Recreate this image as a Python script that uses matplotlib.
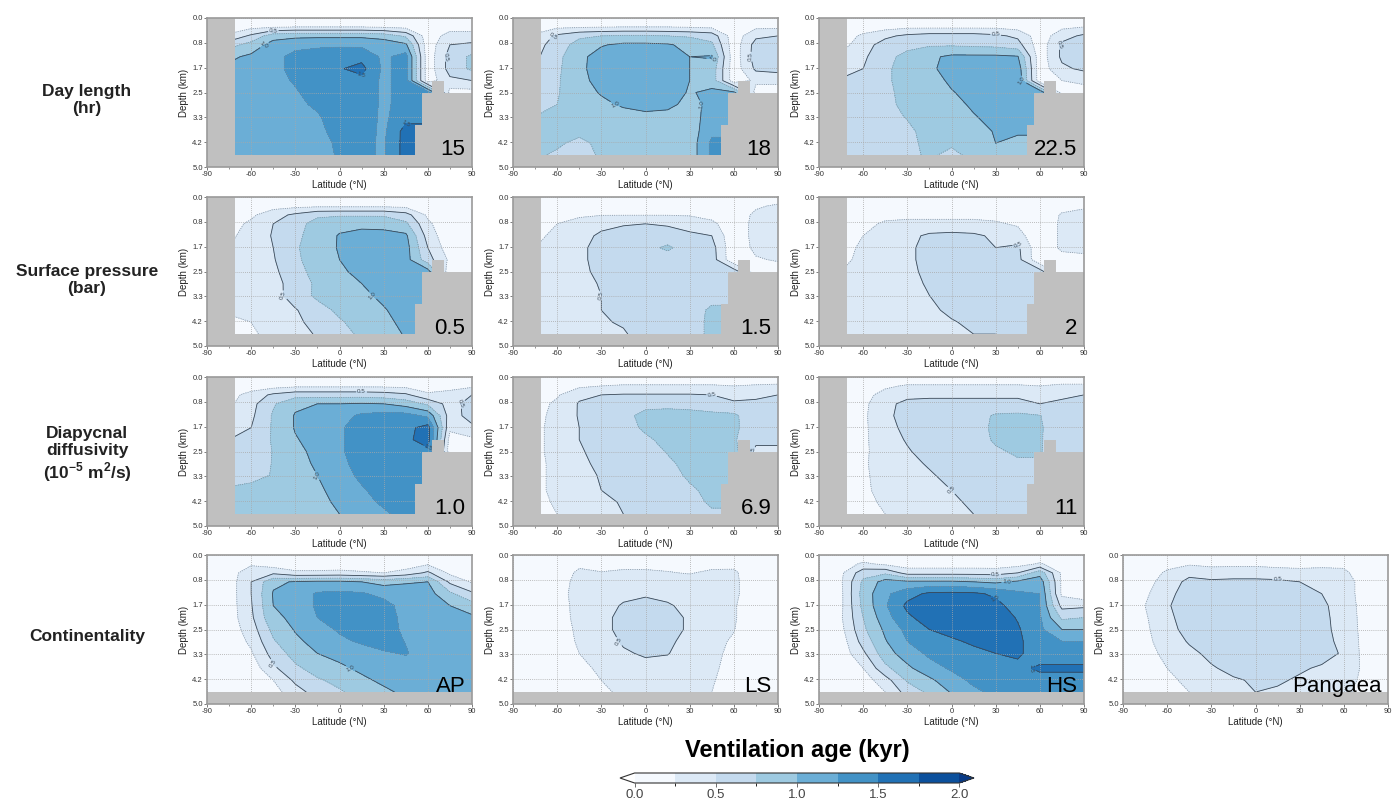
import numpy as np
import matplotlib
matplotlib.use('Agg')
import matplotlib.pyplot as plt
from matplotlib.colors import ListedColormap, BoundaryNorm
from matplotlib.cm import ScalarMappable
from matplotlib.ticker import MultipleLocator

plt.rcParams['font.family'] = ['Liberation Sans', 'DejaVu Sans']
plt.rcParams['axes.unicode_minus'] = False
plt.rcParams['mathtext.fontset'] = 'custom'
plt.rcParams['mathtext.rm'] = 'Liberation Sans'
plt.rcParams['mathtext.bf'] = 'Liberation Sans:bold'

# ---------------- data (ventilation age, kyr) ----------------
lat = [-90, -75, -60, -45, -30, -15, 0, 15, 30, 45, 60, 75, 90]
depth = [0.0, 0.3, 0.6, 0.9, 1.3, 1.7, 2.1, 2.5, 2.9, 3.3, 3.8, 4.2, 4.6]

age_day15 = [
    [0.05]*13,
    [0.10, 0.10, 0.18, 0.22, 0.25, 0.25, 0.25, 0.25, 0.22, 0.18, 0.10, 0.15, 0.15],
    [0.30, 0.30, 0.55, 0.90, 0.95, 0.95, 0.95, 0.95, 0.90, 0.70, 0.10, 0.35, 0.35],
    [0.65, 0.65, 0.85, 1.10, 1.15, 1.20, 1.20, 1.20, 1.15, 1.05, 0.10, 0.50, 0.55],
    [0.95, 0.95, 1.05, 1.15, 1.35, 1.38, 1.45, 1.42, 1.20, 1.35, 0.10, 0.60, 0.80],
    [1.05, 1.05, 1.10, 1.15, 1.35, 1.40, 1.48, 1.58, 1.20, 1.35, 0.10, 0.60, 0.80],
    [1.10, 1.10, 1.12, 1.15, 1.28, 1.40, 1.40, 1.42, 1.20, 1.35, 0.10, 0.45, 0.50],
    [1.12, 1.12, 1.12, 1.15, 1.22, 1.38, 1.40, 1.40, 1.20, 1.35, 1.35, 0.15, 0.15],
    [1.12, 1.12, 1.12, 1.15, 1.18, 1.30, 1.40, 1.40, 1.20, 1.35, 1.35, 1.35, 1.35],
    [1.12, 1.12, 1.12, 1.15, 1.15, 1.22, 1.40, 1.38, 1.20, 1.40, 1.40, 1.40, 1.40],
    [1.12, 1.12, 1.12, 1.12, 1.15, 1.18, 1.35, 1.35, 1.20, 1.60, 1.60, 1.60, 1.60],
    [1.12, 1.12, 1.12, 1.12, 1.12, 1.15, 1.30, 1.30, 1.22, 1.60, 1.60, 1.60, 1.60],
    [1.12, 1.12, 1.12, 1.12, 1.12, 1.15, 1.28, 1.30, 1.22, 1.60, 1.60, 1.60, 1.60],
]

age_day18 = [
    [0.05]*13,
    [0.10, 0.10, 0.20, 0.22, 0.24, 0.25, 0.25, 0.25, 0.23, 0.20, 0.10, 0.20, 0.20],
    [0.30, 0.30, 0.55, 0.70, 0.75, 0.78, 0.78, 0.75, 0.72, 0.65, 0.10, 0.45, 0.50],
    [0.40, 0.40, 0.62, 0.85, 0.98, 1.05, 1.05, 1.03, 0.92, 0.80, 0.10, 0.60, 0.65],
    [0.45, 0.45, 0.68, 0.94, 1.10, 1.12, 1.12, 1.10, 1.00, 1.02, 0.10, 0.62, 0.70],
    [0.52, 0.52, 0.70, 0.95, 1.10, 1.12, 1.12, 1.10, 1.00, 0.90, 0.10, 0.55, 0.60],
    [0.58, 0.58, 0.72, 0.93, 1.08, 1.12, 1.12, 1.10, 1.00, 0.90, 0.10, 0.30, 0.30],
    [0.65, 0.65, 0.73, 0.90, 1.02, 1.10, 1.12, 1.10, 0.98, 1.05, 1.05, 0.15, 0.15],
    [0.70, 0.70, 0.75, 0.86, 0.95, 1.03, 1.06, 1.05, 0.94, 1.05, 1.05, 1.05, 1.05],
    [0.75, 0.75, 0.78, 0.85, 0.88, 0.92, 0.96, 0.94, 0.90, 1.10, 1.10, 1.10, 1.10],
    [0.78, 0.78, 0.80, 0.80, 0.82, 0.85, 0.85, 0.85, 0.85, 1.20, 1.20, 1.20, 1.20],
    [0.78, 0.78, 0.78, 0.70, 0.80, 0.85, 0.85, 0.85, 0.85, 1.30, 1.30, 1.30, 1.30],
    [0.78, 0.78, 0.72, 0.60, 0.80, 0.85, 0.85, 0.85, 0.85, 1.30, 1.30, 1.30, 1.30],
]

age_day225 = [
    [0.05]*13,
    [0.05, 0.05, 0.10, 0.15, 0.20, 0.20, 0.20, 0.20, 0.20, 0.15, 0.10, 0.20, 0.25],
    [0.10, 0.10, 0.30, 0.45, 0.55, 0.60, 0.60, 0.60, 0.55, 0.45, 0.10, 0.40, 0.55],
    [0.15, 0.15, 0.40, 0.60, 0.70, 0.72, 0.72, 0.70, 0.68, 0.60, 0.10, 0.55, 0.60],
    [0.30, 0.30, 0.45, 0.70, 0.80, 0.95, 1.05, 1.05, 1.05, 1.02, 0.10, 0.55, 0.60],
    [0.42, 0.42, 0.50, 0.72, 0.82, 0.95, 1.10, 1.12, 1.12, 1.15, 0.10, 0.45, 0.55],
    [0.52, 0.52, 0.55, 0.72, 0.82, 0.88, 1.05, 1.12, 1.12, 1.20, 0.10, 0.25, 0.30],
    [0.55, 0.55, 0.58, 0.70, 0.82, 0.85, 0.98, 1.10, 1.12, 1.20, 1.20, 0.15, 0.15],
    [0.58, 0.58, 0.60, 0.70, 0.80, 0.85, 0.90, 1.05, 1.12, 1.15, 1.15, 1.15, 1.15],
    [0.58, 0.58, 0.60, 0.70, 0.76, 0.82, 0.88, 0.98, 1.10, 1.10, 1.10, 1.10, 1.10],
    [0.58, 0.58, 0.60, 0.68, 0.72, 0.80, 0.85, 0.90, 1.02, 1.05, 1.05, 1.05, 1.05],
    [0.58, 0.58, 0.60, 0.65, 0.72, 0.78, 0.78, 0.85, 1.00, 0.90, 0.90, 0.90, 0.90],
    [0.70, 0.70, 0.60, 0.62, 0.70, 0.78, 0.70, 0.80, 0.85, 0.85, 0.85, 0.85, 0.85],
]

age_psurf05 = [
    [0.05]*13,
    [0.05, 0.05, 0.10, 0.15, 0.18, 0.20, 0.20, 0.20, 0.20, 0.18, 0.10, 0.05, 0.05],
    [0.10, 0.10, 0.20, 0.40, 0.55, 0.70, 0.72, 0.72, 0.72, 0.60, 0.20, 0.05, 0.05],
    [0.15, 0.15, 0.30, 0.50, 0.65, 0.85, 0.92, 0.92, 0.90, 0.80, 0.30, 0.05, 0.05],
    [0.20, 0.20, 0.35, 0.52, 0.70, 0.85, 1.02, 1.10, 1.10, 1.05, 0.40, 0.05, 0.05],
    [0.25, 0.25, 0.35, 0.50, 0.72, 0.88, 1.02, 1.10, 1.10, 1.10, 0.50, 0.10, 0.05],
    [0.28, 0.28, 0.35, 0.48, 0.70, 0.88, 1.00, 1.10, 1.10, 1.10, 0.60, 0.20, 0.10],
    [0.30, 0.30, 0.35, 0.45, 0.65, 0.85, 0.95, 1.08, 1.10, 1.10, 1.10, 0.05, 0.05],
    [0.30, 0.30, 0.35, 0.42, 0.60, 0.80, 0.90, 1.00, 1.08, 1.10, 1.10, 1.10, 1.10],
    [0.30, 0.30, 0.35, 0.40, 0.62, 0.80, 0.85, 0.95, 1.05, 1.10, 1.10, 1.10, 1.10],
    [0.28, 0.28, 0.30, 0.38, 0.48, 0.65, 0.80, 0.90, 0.98, 1.10, 1.10, 1.10, 1.10],
    [0.20, 0.20, 0.25, 0.35, 0.45, 0.58, 0.72, 0.85, 0.95, 1.05, 1.05, 1.05, 1.05],
    [0.15, 0.15, 0.20, 0.35, 0.42, 0.52, 0.65, 0.80, 0.90, 1.02, 1.02, 1.02, 1.02],
]

age_psurf15 = [
    [0.05]*13,
    [0.05, 0.05, 0.08, 0.12, 0.15, 0.18, 0.18, 0.18, 0.15, 0.10, 0.05, 0.20, 0.30],
    [0.10, 0.10, 0.15, 0.22, 0.24, 0.24, 0.24, 0.24, 0.23, 0.15, 0.05, 0.32, 0.38],
    [0.15, 0.15, 0.25, 0.32, 0.42, 0.48, 0.50, 0.48, 0.40, 0.32, 0.05, 0.35, 0.40],
    [0.20, 0.20, 0.30, 0.40, 0.55, 0.60, 0.60, 0.58, 0.55, 0.50, 0.05, 0.35, 0.40],
    [0.25, 0.25, 0.32, 0.45, 0.58, 0.62, 0.66, 0.80, 0.60, 0.60, 0.05, 0.32, 0.38],
    [0.28, 0.28, 0.35, 0.45, 0.58, 0.62, 0.62, 0.62, 0.62, 0.62, 0.05, 0.22, 0.28],
    [0.30, 0.30, 0.35, 0.45, 0.55, 0.62, 0.62, 0.62, 0.62, 0.62, 0.62, 0.10, 0.10],
    [0.30, 0.30, 0.35, 0.42, 0.52, 0.62, 0.62, 0.62, 0.62, 0.62, 0.62, 0.62, 0.62],
    [0.30, 0.30, 0.35, 0.42, 0.50, 0.60, 0.62, 0.62, 0.62, 0.65, 0.65, 0.65, 0.65],
    [0.30, 0.30, 0.35, 0.40, 0.50, 0.58, 0.62, 0.62, 0.62, 0.80, 0.80, 0.80, 0.80],
    [0.30, 0.30, 0.35, 0.40, 0.48, 0.52, 0.60, 0.62, 0.62, 0.82, 0.82, 0.82, 0.82],
    [0.30, 0.30, 0.35, 0.40, 0.45, 0.48, 0.58, 0.62, 0.62, 0.82, 0.82, 0.82, 0.82],
]

age_psurf2 = [
    [0.05]*13,
    [0.05, 0.05, 0.05, 0.08, 0.10, 0.10, 0.10, 0.10, 0.10, 0.08, 0.05, 0.15, 0.20],
    [0.05, 0.05, 0.08, 0.15, 0.20, 0.20, 0.20, 0.20, 0.18, 0.15, 0.05, 0.28, 0.35],
    [0.08, 0.08, 0.15, 0.30, 0.30, 0.30, 0.30, 0.30, 0.28, 0.22, 0.05, 0.30, 0.38],
    [0.12, 0.12, 0.25, 0.35, 0.42, 0.55, 0.58, 0.55, 0.45, 0.35, 0.05, 0.30, 0.38],
    [0.15, 0.15, 0.30, 0.38, 0.45, 0.58, 0.60, 0.58, 0.50, 0.55, 0.05, 0.30, 0.35],
    [0.20, 0.20, 0.30, 0.40, 0.45, 0.58, 0.60, 0.58, 0.55, 0.58, 0.05, 0.15, 0.15],
    [0.25, 0.25, 0.32, 0.40, 0.45, 0.55, 0.60, 0.58, 0.58, 0.60, 0.60, 0.05, 0.05],
    [0.28, 0.28, 0.32, 0.38, 0.45, 0.52, 0.60, 0.58, 0.58, 0.60, 0.60, 0.60, 0.60],
    [0.28, 0.28, 0.32, 0.36, 0.42, 0.50, 0.58, 0.58, 0.58, 0.60, 0.60, 0.60, 0.60],
    [0.28, 0.28, 0.32, 0.35, 0.40, 0.45, 0.55, 0.58, 0.58, 0.65, 0.65, 0.65, 0.65],
    [0.28, 0.28, 0.32, 0.35, 0.40, 0.42, 0.48, 0.55, 0.55, 0.70, 0.70, 0.70, 0.70],
    [0.28, 0.28, 0.30, 0.32, 0.38, 0.40, 0.45, 0.50, 0.50, 0.65, 0.65, 0.65, 0.65],
]

age_kv10 = [
    [0.05]*13,
    [0.05, 0.05, 0.10, 0.15, 0.20, 0.20, 0.20, 0.20, 0.20, 0.18, 0.10, 0.15, 0.20],
    [0.15, 0.15, 0.35, 0.55, 0.65, 0.65, 0.65, 0.65, 0.62, 0.55, 0.30, 0.35, 0.50],
    [0.20, 0.20, 0.42, 0.72, 0.95, 1.00, 1.00, 1.02, 1.00, 0.90, 0.70, 0.40, 0.60],
    [0.30, 0.30, 0.45, 0.78, 1.02, 1.10, 1.15, 1.30, 1.35, 1.35, 1.20, 0.38, 0.60],
    [0.40, 0.40, 0.50, 0.78, 1.02, 1.12, 1.22, 1.35, 1.40, 1.42, 1.60, 0.30, 0.45],
    [0.50, 0.50, 0.55, 0.78, 0.98, 1.10, 1.22, 1.35, 1.42, 1.45, 1.60, 0.15, 0.20],
    [0.55, 0.55, 0.60, 0.76, 0.92, 1.08, 1.22, 1.35, 1.42, 1.45, 1.45, 0.10, 0.10],
    [0.60, 0.60, 0.65, 0.76, 0.88, 1.05, 1.20, 1.32, 1.40, 1.45, 1.45, 1.45, 1.45],
    [0.65, 0.65, 0.70, 0.76, 0.85, 1.00, 1.15, 1.30, 1.40, 1.45, 1.45, 1.45, 1.45],
    [0.78, 0.78, 0.80, 0.80, 0.85, 0.95, 1.10, 1.22, 1.35, 1.45, 1.45, 1.45, 1.45],
    [0.82, 0.82, 0.82, 0.82, 0.85, 0.92, 1.05, 1.15, 1.30, 1.40, 1.40, 1.40, 1.40],
    [0.85, 0.85, 0.85, 0.85, 0.85, 0.90, 1.00, 1.10, 1.20, 1.35, 1.35, 1.35, 1.35],
]

age_kv69 = [
    [0.05]*13,
    [0.05, 0.05, 0.10, 0.20, 0.25, 0.28, 0.28, 0.28, 0.28, 0.28, 0.25, 0.28, 0.30],
    [0.10, 0.10, 0.22, 0.45, 0.50, 0.52, 0.52, 0.52, 0.52, 0.50, 0.40, 0.45, 0.50],
    [0.15, 0.15, 0.30, 0.52, 0.60, 0.65, 0.70, 0.70, 0.68, 0.60, 0.55, 0.55, 0.55],
    [0.18, 0.18, 0.32, 0.52, 0.62, 0.70, 0.80, 0.82, 0.82, 0.82, 0.80, 0.58, 0.60],
    [0.20, 0.20, 0.32, 0.50, 0.60, 0.68, 0.78, 0.82, 0.82, 0.82, 0.80, 0.60, 0.60],
    [0.20, 0.20, 0.32, 0.50, 0.58, 0.65, 0.72, 0.80, 0.82, 0.82, 0.78, 0.55, 0.55],
    [0.20, 0.20, 0.32, 0.48, 0.56, 0.62, 0.68, 0.76, 0.82, 0.82, 0.82, 0.45, 0.45],
    [0.20, 0.20, 0.30, 0.45, 0.55, 0.60, 0.65, 0.72, 0.80, 0.82, 0.82, 0.82, 0.82],
    [0.20, 0.20, 0.30, 0.42, 0.52, 0.58, 0.62, 0.68, 0.78, 0.82, 0.82, 0.82, 0.82],
    [0.20, 0.20, 0.30, 0.40, 0.50, 0.55, 0.60, 0.65, 0.72, 0.80, 0.80, 0.80, 0.80],
    [0.18, 0.18, 0.28, 0.38, 0.45, 0.52, 0.58, 0.62, 0.68, 0.78, 0.78, 0.78, 0.78],
    [0.15, 0.15, 0.25, 0.35, 0.42, 0.50, 0.55, 0.60, 0.65, 0.72, 0.72, 0.72, 0.72],
]

age_kv11 = [
    [0.05]*13,
    [0.05, 0.05, 0.10, 0.20, 0.28, 0.28, 0.28, 0.28, 0.28, 0.28, 0.25, 0.30, 0.30],
    [0.10, 0.10, 0.15, 0.35, 0.45, 0.45, 0.45, 0.45, 0.45, 0.45, 0.40, 0.45, 0.50],
    [0.12, 0.12, 0.18, 0.45, 0.55, 0.58, 0.58, 0.58, 0.58, 0.58, 0.50, 0.55, 0.60],
    [0.15, 0.15, 0.20, 0.45, 0.58, 0.60, 0.62, 0.65, 0.78, 0.80, 0.76, 0.58, 0.60],
    [0.15, 0.15, 0.20, 0.42, 0.56, 0.60, 0.62, 0.65, 0.80, 0.82, 0.78, 0.58, 0.60],
    [0.15, 0.15, 0.20, 0.40, 0.52, 0.60, 0.62, 0.65, 0.78, 0.82, 0.78, 0.55, 0.60],
    [0.15, 0.15, 0.20, 0.38, 0.48, 0.58, 0.62, 0.62, 0.72, 0.78, 0.78, 0.50, 0.55],
    [0.15, 0.15, 0.22, 0.35, 0.45, 0.52, 0.60, 0.60, 0.65, 0.72, 0.72, 0.72, 0.72],
    [0.18, 0.18, 0.22, 0.32, 0.42, 0.48, 0.55, 0.60, 0.62, 0.62, 0.62, 0.62, 0.62],
    [0.18, 0.18, 0.22, 0.30, 0.40, 0.45, 0.50, 0.55, 0.60, 0.62, 0.62, 0.62, 0.62],
    [0.15, 0.15, 0.20, 0.28, 0.36, 0.42, 0.48, 0.52, 0.58, 0.60, 0.60, 0.60, 0.60],
    [0.12, 0.12, 0.18, 0.25, 0.32, 0.38, 0.45, 0.50, 0.55, 0.58, 0.58, 0.58, 0.58],
]

age_ap = [
    [0.05]*13,
    [0.05, 0.05, 0.20, 0.12, 0.10, 0.10, 0.10, 0.10, 0.08, 0.10, 0.22, 0.05, 0.05],
    [0.05, 0.10, 0.45, 0.45, 0.30, 0.30, 0.32, 0.28, 0.25, 0.35, 0.55, 0.20, 0.08],
    [0.05, 0.12, 0.50, 0.95, 1.02, 1.05, 1.05, 1.00, 0.92, 0.98, 1.00, 0.45, 0.22],
    [0.05, 0.12, 0.50, 1.02, 1.12, 1.28, 1.30, 1.28, 1.18, 1.10, 1.10, 0.80, 0.55],
    [0.05, 0.12, 0.48, 1.00, 1.12, 1.28, 1.32, 1.32, 1.34, 1.15, 1.12, 1.00, 0.85],
    [0.05, 0.12, 0.45, 0.95, 1.05, 1.25, 1.30, 1.34, 1.36, 1.18, 1.12, 1.10, 1.05],
    [0.05, 0.10, 0.38, 0.82, 1.02, 1.15, 1.28, 1.32, 1.36, 1.20, 1.12, 1.12, 1.10],
    [0.05, 0.08, 0.30, 0.72, 0.95, 1.08, 1.20, 1.28, 1.35, 1.24, 1.12, 1.12, 1.12],
    [0.05, 0.05, 0.22, 0.60, 0.85, 1.00, 1.08, 1.15, 1.22, 1.27, 1.12, 1.12, 1.12],
    [0.05, 0.05, 0.10, 0.45, 0.70, 0.85, 0.95, 1.05, 1.10, 1.12, 1.12, 1.12, 1.12],
    [0.05, 0.05, 0.05, 0.25, 0.55, 0.72, 0.82, 0.95, 1.05, 1.10, 1.12, 1.12, 1.12],
    [0.05, 0.05, 0.05, 0.15, 0.40, 0.60, 0.72, 0.85, 0.95, 1.05, 1.10, 1.10, 1.10],
]

age_ls = [
    [0.05]*13,
    [0.05, 0.05, 0.05, 0.20, 0.18, 0.20, 0.20, 0.20, 0.20, 0.20, 0.18, 0.05, 0.05],
    [0.05, 0.05, 0.10, 0.30, 0.26, 0.28, 0.28, 0.26, 0.24, 0.28, 0.30, 0.05, 0.05],
    [0.05, 0.05, 0.15, 0.32, 0.32, 0.34, 0.36, 0.34, 0.32, 0.32, 0.30, 0.10, 0.05],
    [0.05, 0.05, 0.15, 0.35, 0.40, 0.45, 0.48, 0.45, 0.40, 0.35, 0.30, 0.10, 0.05],
    [0.05, 0.05, 0.12, 0.35, 0.42, 0.52, 0.55, 0.52, 0.45, 0.35, 0.28, 0.05, 0.05],
    [0.05, 0.05, 0.10, 0.35, 0.45, 0.55, 0.56, 0.55, 0.48, 0.35, 0.28, 0.05, 0.05],
    [0.05, 0.05, 0.08, 0.32, 0.45, 0.55, 0.56, 0.55, 0.48, 0.35, 0.26, 0.05, 0.05],
    [0.05, 0.05, 0.05, 0.30, 0.42, 0.52, 0.55, 0.53, 0.45, 0.32, 0.22, 0.05, 0.05],
    [0.05, 0.05, 0.05, 0.25, 0.38, 0.48, 0.52, 0.51, 0.40, 0.30, 0.20, 0.05, 0.05],
    [0.05, 0.05, 0.05, 0.15, 0.32, 0.40, 0.45, 0.42, 0.38, 0.30, 0.15, 0.05, 0.05],
    [0.05, 0.05, 0.05, 0.10, 0.25, 0.35, 0.38, 0.38, 0.35, 0.28, 0.10, 0.05, 0.05],
    [0.05, 0.05, 0.05, 0.05, 0.20, 0.30, 0.32, 0.32, 0.30, 0.25, 0.08, 0.05, 0.05],
]

age_hs = [
    [0.05]*13,
    [0.05, 0.10, 0.30, 0.20, 0.12, 0.12, 0.12, 0.12, 0.12, 0.15, 0.28, 0.10, 0.05],
    [0.05, 0.20, 0.65, 0.70, 0.40, 0.40, 0.40, 0.40, 0.38, 0.50, 0.90, 0.20, 0.05],
    [0.05, 0.22, 0.80, 1.10, 1.05, 1.05, 1.05, 1.00, 0.95, 1.05, 1.15, 0.20, 0.05],
    [0.05, 0.20, 0.85, 1.20, 1.40, 1.55, 1.56, 1.55, 1.45, 1.30, 1.25, 0.20, 0.05],
    [0.05, 0.20, 0.82, 1.22, 1.56, 1.65, 1.66, 1.65, 1.58, 1.38, 1.25, 0.42, 0.45],
    [0.05, 0.22, 0.75, 1.15, 1.45, 1.62, 1.66, 1.66, 1.64, 1.48, 1.28, 0.70, 0.75],
    [0.05, 0.18, 0.70, 1.05, 1.32, 1.50, 1.60, 1.65, 1.65, 1.53, 1.30, 1.00, 1.00],
    [0.05, 0.12, 0.60, 0.98, 1.25, 1.40, 1.45, 1.55, 1.64, 1.56, 1.32, 1.25, 1.25],
    [0.05, 0.10, 0.45, 0.90, 1.12, 1.30, 1.38, 1.42, 1.50, 1.55, 1.35, 1.35, 1.35],
    [0.05, 0.05, 0.25, 0.68, 0.95, 1.15, 1.28, 1.35, 1.40, 1.42, 1.55, 1.55, 1.55],
    [0.05, 0.05, 0.12, 0.40, 0.78, 0.95, 1.15, 1.30, 1.35, 1.38, 1.40, 1.40, 1.40],
    [0.05, 0.05, 0.08, 0.25, 0.60, 0.80, 1.02, 1.20, 1.30, 1.35, 1.38, 1.38, 1.38],
]

age_pangaea = [
    [0.05]*13,
    [0.05, 0.05, 0.15, 0.22, 0.20, 0.20, 0.20, 0.18, 0.18, 0.20, 0.20, 0.05, 0.05],
    [0.05, 0.08, 0.30, 0.45, 0.35, 0.38, 0.38, 0.35, 0.32, 0.32, 0.30, 0.10, 0.05],
    [0.05, 0.12, 0.40, 0.55, 0.55, 0.56, 0.56, 0.55, 0.50, 0.45, 0.35, 0.15, 0.05],
    [0.05, 0.20, 0.45, 0.58, 0.60, 0.62, 0.62, 0.60, 0.58, 0.50, 0.35, 0.15, 0.05],
    [0.05, 0.25, 0.48, 0.60, 0.70, 0.62, 0.62, 0.60, 0.58, 0.55, 0.38, 0.15, 0.05],
    [0.05, 0.22, 0.45, 0.60, 0.62, 0.62, 0.62, 0.60, 0.58, 0.56, 0.40, 0.15, 0.05],
    [0.05, 0.20, 0.42, 0.58, 0.62, 0.62, 0.62, 0.60, 0.58, 0.56, 0.42, 0.15, 0.05],
    [0.05, 0.18, 0.38, 0.52, 0.60, 0.62, 0.62, 0.60, 0.58, 0.56, 0.45, 0.15, 0.05],
    [0.05, 0.15, 0.32, 0.45, 0.55, 0.60, 0.62, 0.60, 0.58, 0.56, 0.48, 0.15, 0.05],
    [0.05, 0.12, 0.25, 0.38, 0.48, 0.55, 0.58, 0.58, 0.52, 0.48, 0.50, 0.15, 0.05],
    [0.05, 0.08, 0.18, 0.32, 0.42, 0.48, 0.52, 0.52, 0.48, 0.42, 0.40, 0.15, 0.05],
    [0.05, 0.05, 0.12, 0.25, 0.35, 0.45, 0.50, 0.48, 0.42, 0.38, 0.32, 0.12, 0.05],
]

# land / seafloor outline (lat, depth of seafloor) for the idealised basin runs
basin_lat = [-90, -71, -71, 51, 51, 56, 56, 63, 63, 71, 71, 90]
basin_floor = [0.0, 0.0, 4.6, 4.6, 3.6, 3.6, 2.52, 2.52, 2.1, 2.1, 2.52, 2.52]
flat_lat = [-90, 90]
flat_floor = [4.6, 4.6]

row_titles = ['Day length\n(hr)', 'Surface pressure\n(bar)',
              'Diapycnal\ndiffusivity\n(10$^{\\mathbf{-5}}$ m$^{\\mathbf{2}}$/s)',
              'Continentality']

panels = [
    (0, 0, age_day15, '15', 'basin'),
    (0, 1, age_day18, '18', 'basin'),
    (0, 2, age_day225, '22.5', 'basin'),
    (1, 0, age_psurf05, '0.5', 'basin'),
    (1, 1, age_psurf15, '1.5', 'basin'),
    (1, 2, age_psurf2, '2', 'basin'),
    (2, 0, age_kv10, '1.0', 'basin'),
    (2, 1, age_kv69, '6.9', 'basin'),
    (2, 2, age_kv11, '11', 'basin'),
    (3, 0, age_ap, 'AP', 'flat'),
    (3, 1, age_ls, 'LS', 'flat'),
    (3, 2, age_hs, 'HS', 'flat'),
    (3, 3, age_pangaea, 'Pangaea', 'flat'),
]

levels = [0.0, 0.25, 0.5, 0.75, 1.0, 1.25, 1.5, 1.75, 2.0]
bin_colors = ['#f5f9fe', '#dce9f6', '#c4daee', '#9ecae1',
              '#6baed6', '#4292c6', '#2171b5', '#0b509c']
line_levels = [0.25, 0.5, 0.75, 1.0, 1.25, 1.5, 1.75]
tick_depths = [0, 5/6, 10/6, 2.5, 20/6, 25/6, 5.0]
tick_depth_labels = ['0.0', '0.8', '1.7', '2.5', '3.3', '4.2', '5.0']

# ---------------- figure ----------------
W, H = 1393, 801
fig = plt.figure(figsize=(W/100, H/100), dpi=100)

cmap = ListedColormap(bin_colors)
cmap.set_under('white')
cmap.set_over('#083a86')
norm = BoundaryNorm(levels, cmap.N)

col_x = [207, 513, 819, 1123]
row_top = [18, 197, 377, 555]
aw, ah = 265, 149
land = '#c0c0c0'

for r, c, Z, label, kind in panels:
    ax = fig.add_axes([col_x[c]/W, 1 - (row_top[r]+ah)/H, aw/W, ah/H])
    Z = np.array(Z)
    ax.contourf(lat, depth, Z, levels=levels, cmap=cmap, norm=norm,
                extend='max', zorder=1)
    styles = ['dotted' if i % 2 == 0 else 'solid' for i in range(len(line_levels))]
    cols = ['#7f8a96' if i % 2 == 0 else '#3b4856' for i in range(len(line_levels))]
    cs = ax.contour(lat, depth, Z, levels=line_levels, colors=cols,
                    linewidths=0.6, linestyles=styles, zorder=2)
    try:
        ax.clabel(cs, levels=[lv for lv in (0.5, 1.0, 1.5) if lv in cs.levels],
                  fmt='%.1f', fontsize=4.5, inline=True, inline_spacing=1)
    except Exception:
        pass
    if kind == 'basin':
        ax.fill_between(basin_lat, basin_floor, 5.0, color=land, lw=0, zorder=4)
    else:
        ax.fill_between(flat_lat, flat_floor, 5.0, color=land, lw=0, zorder=4)
    ax.set_xlim(-90, 90)
    ax.set_ylim(5.0, 0.0)
    ax.set_xticks(range(-90, 91, 30))
    ax.xaxis.set_minor_locator(MultipleLocator(15))
    ax.set_yticks(tick_depths)
    ax.set_yticklabels(tick_depth_labels)
    ax.grid(True, which='major', linestyle=(0, (1, 1.5)), color='#a8a8a8',
            linewidth=0.6, zorder=3)
    ax.set_axisbelow(False)
    ax.tick_params(labelsize=5.5, length=2, width=0.6, colors='#666666',
                   labelcolor='#333333', pad=1)
    ax.tick_params(which='minor', length=1.5, width=0.5, colors='#666666')
    ax.set_ylabel('Depth (km)', fontsize=7, labelpad=2, color='#222222')
    ax.set_xlabel('Latitude (°N)', fontsize=7, labelpad=1, color='#222222')
    for sp in ax.spines.values():
        sp.set_color('#9a9a9a')
        sp.set_linewidth(1.2)
        sp.set_zorder(6)
    ax.text(0.975, 0.05, label, transform=ax.transAxes, ha='right', va='bottom',
            fontsize=16, color='black', zorder=7)

row_centers = [100, 280, 455, 637]
for t, yc in zip(row_titles, row_centers):
    fig.text(87/W, 1 - yc/H, t, ha='center', va='center', fontsize=12.5,
             fontweight='bold', color='#222222', multialignment='center',
             linespacing=1.15)

# colorbar
cax = fig.add_axes([620/W, 1 - 783/H, 354/W, 10/H])
sm = ScalarMappable(norm=norm, cmap=cmap)
cb = fig.colorbar(sm, cax=cax, orientation='horizontal', extend='both',
                  extendfrac=0.045, ticks=[0, 0.5, 1.0, 1.5, 2.0], drawedges=False)
cb.ax.set_xticklabels(['0.0', '0.5', '1.0', '1.5', '2.0'])
cb.ax.tick_params(labelsize=9.5, length=3, width=0.6, colors='#555555',
                  labelcolor='#444444', pad=1)
cb.outline.set_edgecolor('#333333')
cb.outline.set_linewidth(0.8)
fig.text(797/W, 1 - 750/H, 'Ventilation age (kyr)', ha='center', va='center',
         fontsize=17, fontweight='bold', color='black')

fig.savefig('out.png', dpi=100)
